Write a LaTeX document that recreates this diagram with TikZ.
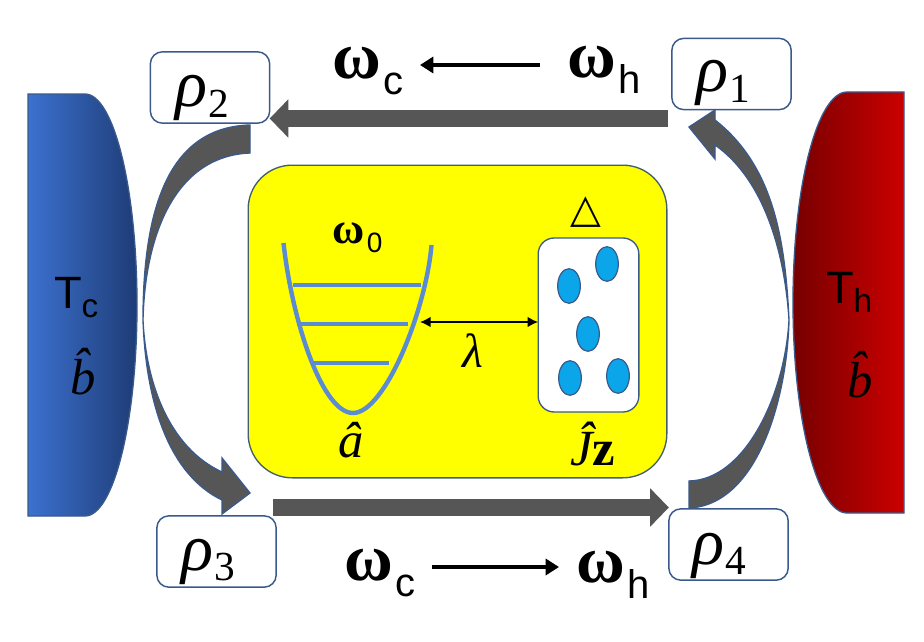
\documentclass[tikz,border=0pt]{standalone}
\usepackage{fontspec}
\setmainfont{Liberation Sans}
\newfontfamily\symfont{DejaVu Sans}
\newfontfamily\serifmath{Liberation Serif}
\usetikzlibrary{arrows.meta,calc,shapes.geometric}
\definecolor{edgeblue}{HTML}{3A5A8C}
\definecolor{sysedge}{HTML}{3F5F6F}
\definecolor{bandgray}{HTML}{565656}
\definecolor{wellblue}{HTML}{5B8BD3}
\definecolor{dotblue}{HTML}{0BA6EA}
\definecolor{coldl}{HTML}{3C71CF}
\definecolor{coldr}{HTML}{1E3C76}
\definecolor{hotl}{HTML}{760000}
\definecolor{hotr}{HTML}{CC0000}
\definecolor{sysfill}{RGB}{255,255,0}
\newcommand{\subtext}[3]{\raisebox{-#1pt}{\fontsize{#2}{#2}\selectfont #3}}
\newcommand{\itlab}[1]{{\serifmath\itshape #1}}
\newcommand{\wlab}[1]{{\serifmath\bfseries ω}\hspace{2pt}\subtext{12}{30}{#1}}
\newcommand{\rholabel}[1]{\itlab{ρ}\hspace{1pt}\subtext{8}{31}{\serifmath #1}}
\tikzset{
  every node/.style={inner sep=0pt,outer sep=0pt,text=black},
  statebox/.style={draw=edgeblue,line width=1.1pt,fill=white,rounded corners=9pt,minimum width=89.5pt,minimum height=53.5pt},
  band/.style={fill=bandgray,draw=edgeblue,line width=1pt,line join=miter},
  fatarrow/.style={draw=bandgray,line width=12.5pt,-{Triangle[length=14pt,width=28pt,color=bandgray]}},
  level/.style={draw=wellblue,line width=3pt},
  dot/.style={ellipse,draw=edgeblue,line width=0.9pt,fill=dotblue,minimum width=17pt,minimum height=26pt},
  thinarrow/.style={draw=black,line width=3pt,-{Triangle[length=10pt,width=12pt]}},
  bigfreq/.style={font=\fontsize{50}{50}\selectfont},
  mathlab/.style={font=\fontsize{38}{38}\selectfont},
  rholab/.style={font=\fontsize{50}{50}\selectfont},
  bathlab/.style={font=\fontsize{34}{34}\selectfont},
}
\begin{document}
\begin{tikzpicture}[x=0.75pt,y=-0.75pt]
\useasboundingbox (0,0) rectangle (924,642);
\fill[white] (0,0) rectangle (924,642);
% baths
\shade[left color=coldl,right color=coldr,draw=edgeblue,line width=1pt]
  (28,94) -- (85,94) .. controls (113.7,94) and (137,188.5) .. (137,305) .. controls (137,421.5) and (113.7,516) .. (85,516) -- (28,516) -- cycle;
\shade[left color=hotl,right color=hotr,draw=edgeblue,line width=1pt]
  (904,92) -- (847,92) .. controls (817.2,92) and (793,186.2) .. (793,302.5) .. controls (793,418.8) and (817.2,513) .. (847,513) -- (904,513) -- cycle;
\node[anchor=base west,bathlab] (tc) at (54,308) {T\subtext{7}{25}{c}};
\node[anchor=base west,bathlab] (th) at (826,303) {T\subtext{7}{25}{h}};
\node[anchor=base west,mathlab] (bc) at (70,394) {\itlab{\^b}};
\node[anchor=base west,mathlab] (bh) at (847,397) {\itlab{\^b}};
% centre
\node[draw=sysedge,line width=1pt,fill=sysfill,rounded corners=33pt,minimum width=314pt,minimum height=234.5pt] (sys) at (457.5,321.5) {};
\draw[wellblue,line width=3.3pt] (283.5,243) .. controls (292,320) and (322,413) .. (353,413) .. controls (385,413) and (426,310) .. (431.5,245);
\draw[level] (293,284.5) -- (421,284.5);
\draw[level] (297,323.5) -- (408,323.5);
\draw[level] (314,362.5) -- (389,362.5);
\node[draw=edgeblue,line width=1pt,fill=white,rounded corners=12pt,minimum width=75.5pt,minimum height=130.5pt] (spin) at (588.5,325) {};
\node[dot] (d1) at (607,264) {};
\node[dot] (d2) at (569,286) {};
\node[dot] (d3) at (588,334) {};
\node[dot] (d4) at (570,378) {};
\node[dot] (d5) at (618,376) {};
\coordinate (wellr) at (420,322);
\draw[black,line width=1.2pt,{Latex[length=8pt,width=8pt]}-{Latex[length=8pt,width=8pt]}] (wellr) -- (spin.west |- wellr);
\node[font=\fontsize{36}{36}\selectfont] (lam) at (473,351) {\itlab{λ}};
\node[anchor=base west,font=\fontsize{33}{33}\selectfont] (w0) at (332,243) {{\serifmath\bfseries ω}\hspace{2pt}\subtext{7}{21}{0}};
\node[font=\fontsize{30}{30}\selectfont\symfont] (del) at (586,212) {△};
\node[anchor=base west,mathlab] (ahat) at (338,457) {\itlab{\^a}};
\node[anchor=base west,mathlab] (jz) at (570,465) {\itlab{\^J}{\serifmath\bfseries z}};
% state boxes
\node[statebox] (r1) at (731.5,74) {};
\node[statebox] (r2) at (210,87.5) {};
\node[statebox] (r3) at (216.5,551.5) {};
\node[statebox] (r4) at (728.5,544.5) {};
\node[rholab,anchor=base west] (l1) at (696,92) {\rholabel{1}};
\node[rholab,anchor=base west] (l2) at (175,107) {\rholabel{2}};
\node[rholab,anchor=base west] (l3) at (181,570) {\rholabel{3}};
\node[rholab,anchor=base west] (l4) at (692,564) {\rholabel{4}};
% straight stroke arrows
\coordinate (topy) at (0,118.5);
\coordinate (boty) at (0,507.5);
\coordinate (topt) at (668,118.5);
\coordinate (bott) at (273,507.5);
\draw[fatarrow] (topt) -- (r2.east |- topy);
\draw[fatarrow] (bott) -- (r4.west |- boty);
% curved stroke arrows
\draw[band] (250,125) .. controls (178,127) and (143,190) .. (143,320) .. controls (145,235) and (175,156) .. (250,153) -- cycle;
\draw[band] (143,320) .. controls (146,405) and (170,475) .. (222,500) -- (222,514) -- (250,493) -- (222,458) -- (222,472) .. controls (170,448) and (146,385) .. (143,320) -- cycle;
\draw[band] (789,320) .. controls (785,235) and (772,165) .. (715,120) -- (715,110) -- (689,127) -- (715,159) -- (715,145) .. controls (765,180) and (785,255) .. (789,320) -- cycle;
\draw[band] (789,320) .. controls (787,400) and (757,505) .. (689,508) -- (689,481) .. controls (745,480) and (785,395) .. (789,320) -- cycle;
% frequency labels
\node[anchor=base west,bigfreq] (wc1) at (332,79) {\wlab{c}};
\node[anchor=base west,bigfreq] (wh1) at (567,78) {\wlab{h}};
\node[anchor=base west,bigfreq] (wc2) at (344,580) {\wlab{c}};
\node[anchor=base west,bigfreq] (wh2) at (576,582) {\wlab{h}};
\coordinate (ta) at (540,65);
\coordinate (tb) at (420,65);
\coordinate (ba) at (432,567);
\coordinate (bb) at (559,567);
\draw[thinarrow] (ta) -- (tb);
\draw[thinarrow] (ba) -- (bb);
\end{tikzpicture}
\end{document}
